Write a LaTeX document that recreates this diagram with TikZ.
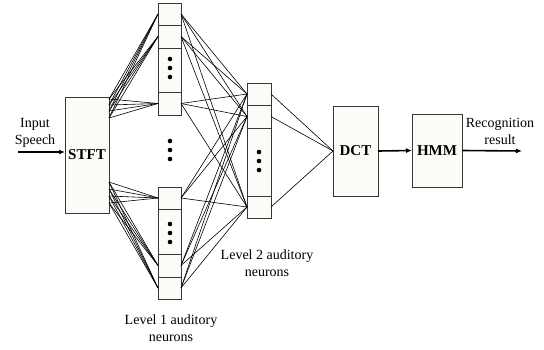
\documentclass[tikz,border=0pt]{standalone}
\usepackage{fontspec}
\setmainfont{Liberation Serif}
\usetikzlibrary{arrows.meta}
\definecolor{boxfill}{RGB}{253,251,247}
\definecolor{boxline}{RGB}{55,55,55}
\begin{document}
\begin{tikzpicture}[x=1pt,y=-1pt,
  cell/.style={draw=boxline, line width=0.8pt, fill=boxfill, inner sep=0pt, outer sep=0pt},
  blockbox/.style={draw=boxline, line width=0.8pt, fill=boxfill, inner sep=0pt, outer sep=0pt, font=\fontsize{15}{18}\selectfont\bfseries},
  conn/.style={line width=0.6pt, black},
  flow/.style={line width=1.6pt, -{Latex[length=6pt,width=5pt]}},
  lbl/.style={font=\fontsize{14}{17}\selectfont, align=center, inner sep=0pt},
  dot/.style={circle, fill=black, inner sep=0pt, minimum size=4.6pt}
]
\useasboundingbox (0,0) rectangle (544,349);

% blocks
\node[blockbox, minimum width=44pt, minimum height=116pt] (stft) at (87,155) {STFT};
\node[blockbox, minimum width=45pt, minimum height=90pt] (dct) at (355.5,151) {DCT};
\node[blockbox, minimum width=50pt, minimum height=73pt] (hmm) at (437,150.5) {HMM};

% level 1 column, top part
\node[cell, minimum width=23pt, minimum height=22pt] (a1) at (169.5,14) {};
\node[cell, minimum width=23pt, minimum height=23pt] (a2) at (169.5,36.5) {};
\node[cell, minimum width=23pt, minimum height=44pt] (ad) at (169.5,70) {};
\node[cell, minimum width=23pt, minimum height=23pt] (a3) at (169.5,103.5) {};
% level 1 column, bottom part
\node[cell, minimum width=23pt, minimum height=22pt] (b1) at (169.5,198) {};
\node[cell, minimum width=23pt, minimum height=45pt] (bd) at (169.5,231.5) {};
\node[cell, minimum width=23pt, minimum height=23pt] (b2) at (169.5,265.5) {};
\node[cell, minimum width=23pt, minimum height=22pt] (b3) at (169.5,288) {};
% level 2 column
\node[cell, minimum width=24pt, minimum height=22pt] (c1) at (259,94) {};
\node[cell, minimum width=24pt, minimum height=23pt] (c2) at (259,116.5) {};
\node[cell, minimum width=24pt, minimum height=68pt] (cd) at (259,162) {};
\node[cell, minimum width=24pt, minimum height=22pt] (c3) at (259,207) {};

% dots
\foreach \y [count=\i] in {59,68,77} \node[dot] (ad\i) at (170,\y) {};
\foreach \y [count=\i] in {224,233,242} \node[dot] (bd\i) at (170,\y) {};
\foreach \y [count=\i] in {141,150,159} \node[dot] (md\i) at (170,\y) {};
\foreach \y [count=\i] in {152,161,170} \node[dot] (cd\i) at (259,\y) {};

% STFT output points
\coordinate (s1) at (109,99);
\coordinate (s2) at (109,105);
\coordinate (s3) at (109,111);
\coordinate (s4) at (109,118);
\coordinate (s5) at (109,182);
\coordinate (s6) at (109,189);
\coordinate (s7) at (109,196);
\coordinate (s8) at (109,203);

% connections
\foreach \s in {s1,s2,s3,s4} \foreach \t in {a1,a2,a3} \draw[conn] (\s) -- (\t.west);
\foreach \s in {s5,s6,s7,s8} \foreach \t in {b1,b2,b3} \draw[conn] (\s) -- (\t.west);
\foreach \s in {a1,a2,a3,b1,b2,b3} \foreach \t in {c1,c2,c3} \draw[conn] (\s.east) -- (\t.west);
\foreach \s in {c1,c2,c3} \draw[conn] (\s.east) -- (dct.west);

% flow arrows
\coordinate (in) at (18,152);
\coordinate (out) at (522,151);
\draw[flow] (in) -- (in -| stft.west);
\draw[flow] (dct.east) -- (hmm.west);
\draw[flow] (hmm.east) -- (out);

% labels
\node[lbl] (inlbl) at (35,133) {Input\\Speech};
\node[lbl] (reclbl) at (500,131) {Recognition\\result};
\node[lbl] (l2lbl) at (267,263) {Level 2 auditory\\neurons};
\node[lbl] (l1lbl) at (171,328) {Level 1 auditory\\neurons};
\end{tikzpicture}
\end{document}
